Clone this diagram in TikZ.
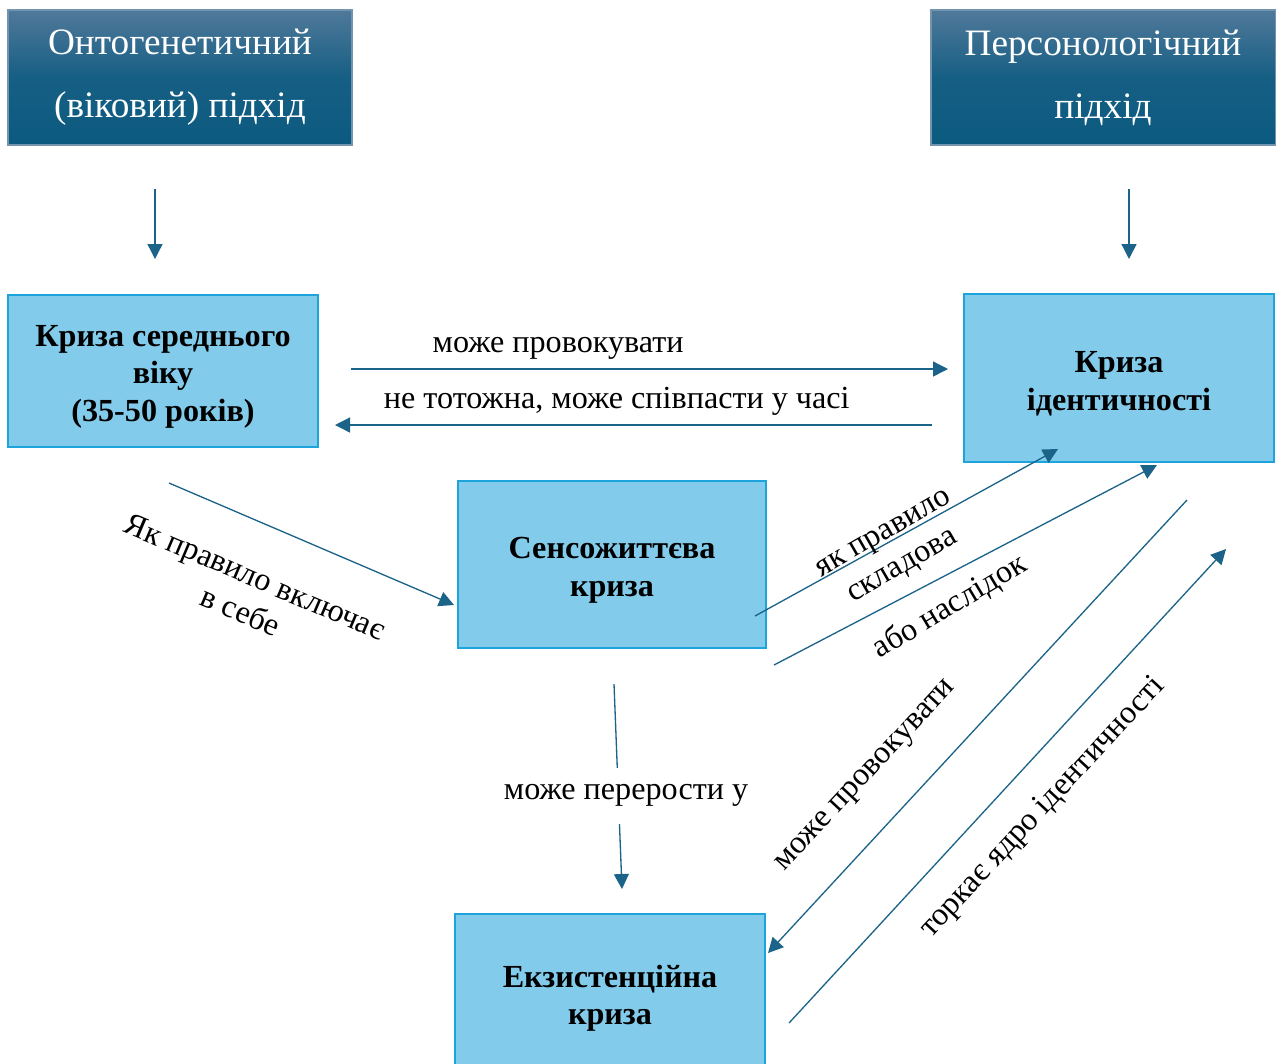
\documentclass[tikz,border=0pt]{standalone}
\usepackage{fontspec}
\setmainfont{Liberation Serif}
\usepackage{tikz}
\usetikzlibrary{arrows.meta,positioning}
\definecolor{deepteal}{HTML}{0C5A80}
\definecolor{topteal}{HTML}{50799A}
\definecolor{skyfill}{HTML}{83CBEB}
\definecolor{skyline}{HTML}{1EA4DC}
\definecolor{arrowblue}{HTML}{1B6388}
\newcommand{\boxstrut}{\rule{0pt}{18.5pt}}
\tikzset{
  approach/.style={draw=topteal!80,line width=0.6pt,top color=topteal,bottom color=deepteal,
                   middle color=deepteal!85!topteal,text=white,align=center,inner sep=0pt,
                   minimum width=68.8mm,minimum height=27mm,font=\fontsize{21.2}{36}\selectfont},
  crisis/.style ={draw=skyline,line width=1.6pt,fill=skyfill,align=center,inner sep=0pt,
                   minimum width=62mm,font=\fontsize{18.3}{21.3}\selectfont\bfseries},
  link/.style   ={inner sep=2pt,align=center,font=\fontsize{18.3}{21.5}\selectfont},
  flow/.style   ={-{Triangle[length=3mm,width=3mm]},line width=0.75pt,draw=arrowblue}
}

\begin{document}
\begin{tikzpicture}[x=0.2mm,y=-0.2mm]
  \useasboundingbox (0,0) rectangle (1281,1063);
  % approaches
  \node[approach] (ontog) at (180,77.5) {Онтогенетичний\\(віковий) підхід};
  \node[approach] (person) at (1103,77.5) {Персонологічний\\підхід};
  % crises
  \node[crisis,minimum height=30.4mm] (midlife) at (163,371) {\boxstrut Криза середнього\\віку\\(35-50 років)};
  \node[crisis,minimum height=33.6mm] (ident) at (1119,378) {\boxstrut Криза\\ідентичності};
  \node[crisis,minimum width=61.6mm,minimum height=33.4mm] (sense) at (612,564.5) {\boxstrut Сенсожиттєва\\криза};
  \node[crisis,minimum height=31.6mm] (exist) at (610,993) {\boxstrut Екзистенційна\\криза};

  % free ends of the connectors
  \coordinate (ontogout) at (155,189);   \coordinate (midlifein) at (155,259);
  \coordinate (personout) at (1129,189); \coordinate (identin) at (1129,259);
  \coordinate (midright) at (351,369);   \coordinate (identleft) at (948,369);
  \coordinate (identback) at (932,425);  \coordinate (midback) at (335,425);
  \coordinate (midlow) at (169,483);     \coordinate (senseleft) at (454,605);
  \coordinate (senseA) at (755,616);     \coordinate (identA) at (1058,449);
  \coordinate (senseB) at (774,665);     \coordinate (identB) at (1157,465);
  \coordinate (identC) at (1187,500);    \coordinate (existC) at (768,953);
  \coordinate (existD) at (789,1023);    \coordinate (identD) at (1226,549);
  \coordinate (senselow) at (614,684);   \coordinate (existtop) at (622,889);

  \draw[flow] (ontogout) -- (midlifein);
  \draw[flow] (personout) -- (identin);
  \draw[flow] (midright) -- node[link,above=1mm,pos=0.347]{може провокувати} (identleft);
  \draw[flow] (identback) -- node[link,above=1mm,pos=0.528]{не тотожна, може співпасти у часі} (midback);
  \draw[flow] (midlow) -- (senseleft);
  \draw[flow] (senseA) -- (identA);
  \draw[flow] (senseB) -- (identB);
  \draw[flow] (identC) -- (existC);
  \draw[flow] (existD) -- (identD);
  \draw[flow] (senselow) -- node[link,fill=white,inner ysep=3.4mm,pos=0.51,yshift=-1.4mm,xshift=1.6mm]{може перерости у} (existtop);

  % slanted labels
  \node[link,rotate=-23] (inclabel) at (248,594) {Як правило включає\\в себе};
  \node[link,rotate=30] (partlabel) at (894,552) {як правило\\складова};
  \node[link,rotate=31] (resultlabel) at (950,607) {або наслідок};
  \node[link,rotate=47] (provlabel) at (867,777) {може провокувати};
  \node[link,rotate=47] (corelabel) at (1043,808) {торкає ядро ідентичності};
\end{tikzpicture}
\end{document}
